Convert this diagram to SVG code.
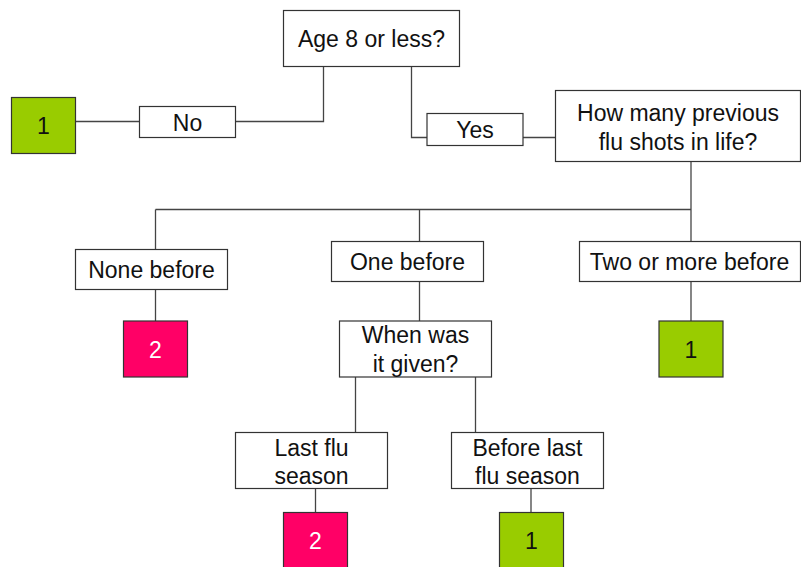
<svg xmlns="http://www.w3.org/2000/svg" width="801" height="567" viewBox="0 0 801 567">
<style>
.box{fill:#fff;stroke:#333;stroke-width:1.2}
.g{fill:#99cc00;stroke:#333;stroke-width:1.2}
.p{fill:#ff0066;stroke:#333;stroke-width:1.2}
.t{font-family:"Liberation Sans",Arial,sans-serif;font-size:23px;fill:#111;text-anchor:middle}
.w{fill:#fff}
.c{fill:none;stroke:#444;stroke-width:1.3}
</style>
<rect width="801" height="567" fill="#fff"/>
<g id="connectors">
<polyline class="c" points="323.5,66 323.5,121.5 235.5,121.5"/>
<line class="c" x1="139.5" y1="121.5" x2="75.5" y2="121.5"/>
<polyline class="c" points="411.5,66 411.5,137.5 427,137.5"/>
<line class="c" x1="523" y1="137.5" x2="555.5" y2="137.5"/>
<line class="c" x1="691" y1="161.5" x2="691" y2="241.5"/>
<line class="c" x1="155.5" y1="209.5" x2="691" y2="209.5"/>
<line class="c" x1="155.5" y1="209.5" x2="155.5" y2="249.5"/>
<line class="c" x1="419.5" y1="209.5" x2="419.5" y2="241.5"/>
<line class="c" x1="155.5" y1="289.5" x2="155.5" y2="321"/>
<line class="c" x1="419.5" y1="281.5" x2="419.5" y2="321"/>
<line class="c" x1="691" y1="281.5" x2="691" y2="321"/>
<line class="c" x1="355.5" y1="377" x2="355.5" y2="432.5"/>
<line class="c" x1="475.5" y1="377" x2="475.5" y2="432.5"/>
<line class="c" x1="315.5" y1="488.5" x2="315.5" y2="512.5"/>
<line class="c" x1="531" y1="488.5" x2="531" y2="512.5"/>
</g>
<g id="age"><rect class="box" x="283.5" y="10.5" width="176" height="56"/><text class="t" x="371.5" y="46.5">Age 8 or less?</text></g>
<g id="no"><rect class="box" x="139.5" y="106.5" width="96" height="31"/><text class="t" x="187.5" y="130.5">No</text></g>
<g id="res-no"><rect class="g" x="11.5" y="97.5" width="64" height="56"/><text class="t" x="43.5" y="134">1</text></g>
<g id="yes"><rect class="box" x="427" y="113.5" width="96" height="32"/><text class="t" x="475" y="138">Yes</text></g>
<g id="how"><rect class="box" x="555.5" y="90.5" width="245" height="71"/><text class="t" x="678" y="121">How many previous</text><text class="t" x="678" y="150">flu shots in life?</text></g>
<g id="none"><rect class="box" x="75.5" y="249.5" width="152" height="40"/><text class="t" x="151.5" y="278">None before</text></g>
<g id="one"><rect class="box" x="331.5" y="241.5" width="152" height="40"/><text class="t" x="407.5" y="270">One before</text></g>
<g id="two"><rect class="box" x="579.5" y="241.5" width="221" height="40"/><text class="t" x="689.5" y="270">Two or more before</text></g>
<g id="res-none"><rect class="p" x="123.5" y="321" width="64" height="56"/><text class="t w" x="155.5" y="357.5">2</text></g>
<g id="when"><rect class="box" x="339.5" y="321" width="152" height="56"/><text class="t" x="415.5" y="343">When was</text><text class="t" x="415.5" y="372">it given?</text></g>
<g id="res-two"><rect class="g" x="659" y="321" width="64" height="56"/><text class="t" x="691" y="357.5">1</text></g>
<g id="last"><rect class="box" x="235.5" y="432.5" width="152" height="56"/><text class="t" x="311.5" y="456">Last flu</text><text class="t" x="311.5" y="483.5">season</text></g>
<g id="before"><rect class="box" x="451.5" y="432.5" width="152" height="56"/><text class="t" x="527.5" y="456">Before last</text><text class="t" x="527.5" y="483.5">flu season</text></g>
<g id="res-last"><rect class="p" x="283.5" y="512.5" width="64" height="56"/><text class="t w" x="315.5" y="548.5">2</text></g>
<g id="res-before"><rect class="g" x="499.5" y="512.5" width="64" height="56"/><text class="t" x="531.5" y="548.5">1</text></g>
</svg>
